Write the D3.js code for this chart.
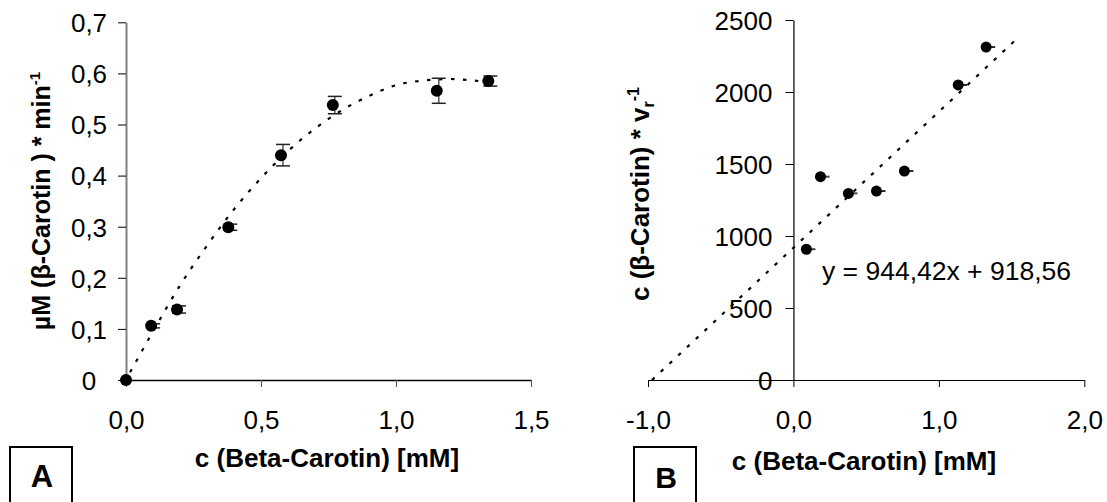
<!DOCTYPE html>
<html>
<head>
<meta charset="utf-8">
<script src="https://cdn.jsdelivr.net/npm/d3@7"></script>
<style>
  body { margin: 0; background: #fff; }
  text { font-family: "Liberation Sans", Arial, sans-serif; fill: #000; }
</style>
</head>
<body>
<div id="chart"></div>
<script>
// Panel A: rate vs concentration, with error bars
const concA = [0, 0.093, 0.189, 0.379, 0.574, 0.766, 1.151, 1.342];
const rateA = [0, 0.106, 0.138, 0.299, 0.440, 0.538, 0.566, 0.585];
const errA  = [0, 0.004, 0.007, 0.006, 0.021, 0.017, 0.0245, 0.0098];
// dotted trend curve
const trendAx = [0.015, 0.1, 0.2, 0.3, 0.4, 0.5, 0.6, 0.7, 0.8, 0.9, 1.0, 1.1, 1.2, 1.29, 1.34];
const trendAy = [0.015, 0.095, 0.185, 0.263, 0.334, 0.395, 0.448, 0.492, 0.528, 0.556, 0.577, 0.586, 0.589, 0.586, 0.583];
const xTicksA = [0, 0.5, 1.0, 1.5];
const yTicksA = [0, 0.1, 0.2, 0.3, 0.4, 0.5, 0.6, 0.7];

// Panel B: Hanes plot, c / v vs c
const concB = [0.089, 0.186, 0.378, 0.571, 0.763, 1.133, 1.325];
const hanesB = [908, 1412, 1296, 1312, 1451, 2049, 2312];
const errB  = [3, 3, 3, 3, 3, 3, 3];
const fitB = [944.42, 918.56];   // slope, intercept
const fitEndB = 1.52;
const xTicksB = [-1, 0, 1, 2];
const yTicksB = [0, 500, 1000, 1500, 2000, 2500];

const svg = d3.select("#chart").append("svg")
    .attr("width", 1107)
    .attr("height", 502);

const comma = d => d3.format(".1f")(Math.abs(d)).replace(".", ",");
const commaSigned = d => (d < 0 ? "-" : "") + comma(d);

// ---------- Panel A ----------
let xA = d3.scaleLinear().domain([0, 1.5]).range([126, 531]);
let yA = d3.scaleLinear().domain([0, 0.7]).range([380, 22.3]);

let gxA = svg.append("g")
    .attr("transform", `translate(0,${yA(0)})`)
    .call(d3.axisBottom(xA).tickValues(xTicksA).tickSize(7).tickSizeOuter(0).tickPadding(24)
        .tickFormat(comma));
gxA.select(".domain").attr("stroke", "#000").attr("stroke-width", 1.3);
gxA.selectAll(".tick line").attr("stroke", "#555");
gxA.selectAll("text").attr("font-size", 26).attr("fill", "#000");

let gyA = svg.append("g")
    .attr("transform", `translate(${xA(0)},0)`)
    .call(d3.axisLeft(yA).tickValues(yTicksA).tickSize(8).tickSizeOuter(0)
        .tickFormat(d => d === 0 ? "0" : comma(d)));
gyA.select(".domain").attr("stroke", "#808080").attr("stroke-width", 2);
gyA.selectAll(".tick line").attr("stroke", "#000");
gyA.selectAll("text")
    .attr("font-size", 26).attr("fill", "#000")
    .attr("text-anchor", "middle").attr("x", -37).attr("dy", "0.36em");

// trend curve
let trendA = trendAx.map((x, i) => [x, trendAy[i]]);
svg.append("path")
    .datum(trendA)
    .attr("fill", "none")
    .attr("stroke", "#000")
    .attr("stroke-width", 2.2)
    .attr("stroke-dasharray", "3.5,8.5")
    .attr("d", d3.line().x(d => xA(d[0])).y(d => yA(d[1])).curve(d3.curveMonotoneX));

// error bars
const capW = 7, capShift = 2;
let ebA = svg.append("g");
concA.forEach((c, i) => {
    if (errA[i] === 0) return;
    let x = xA(c) + capShift;
    ebA.append("line")
        .attr("x1", x).attr("x2", x)
        .attr("y1", yA(rateA[i] - errA[i])).attr("y2", yA(rateA[i] + errA[i]))
        .attr("stroke", "#555").attr("stroke-width", 1.5);
    [rateA[i] - errA[i], rateA[i] + errA[i]].forEach(v => {
        ebA.append("line")
            .attr("x1", x - capW).attr("x2", x + capW)
            .attr("y1", yA(v)).attr("y2", yA(v))
            .attr("stroke", "#222").attr("stroke-width", 1.5);
    });
});

svg.append("g").selectAll("circle")
    .data(concA)
    .join("circle")
    .attr("cx", d => xA(d))
    .attr("cy", (d, i) => yA(rateA[i]))
    .attr("r", 6)
    .attr("fill", "#000");

// axis titles A
svg.append("text")
    .attr("x", 327).attr("y", 467)
    .attr("text-anchor", "middle")
    .attr("font-size", 26).attr("font-weight", "bold")
    .text("c (Beta-Carotin) [mM]");

let tA = svg.append("text")
    .attr("transform", "translate(50,201) rotate(-90)")
    .attr("text-anchor", "middle")
    .attr("font-size", 25).attr("font-weight", "bold");
tA.append("tspan").text("µM (β-Carotin ) * min");
tA.append("tspan").attr("font-size", 15).attr("dy", -10).text("-1");

svg.append("rect")
    .attr("x", 10).attr("y", 447).attr("width", 62).attr("height", 60)
    .attr("fill", "none").attr("stroke", "#000").attr("stroke-width", 2);
svg.append("text")
    .attr("x", 42).attr("y", 487).attr("text-anchor", "middle")
    .attr("font-size", 31).attr("font-weight", "bold")
    .text("A");

// ---------- Panel B ----------
let xB = d3.scaleLinear().domain([-1, 2]).range([648, 1084.3]);
let yB = d3.scaleLinear().domain([0, 2500]).range([380, 20]);

let gxB = svg.append("g")
    .attr("transform", `translate(0,${yB(0)})`)
    .call(d3.axisBottom(xB).tickValues(xTicksB).tickSize(7).tickSizeOuter(0).tickPadding(24)
        .tickFormat(commaSigned));
gxB.select(".domain").attr("stroke", "#000").attr("stroke-width", 1.2);
gxB.selectAll(".tick line").attr("stroke", "#000");
gxB.selectAll("text").attr("font-size", 26).attr("fill", "#000");

let gyB = svg.append("g")
    .attr("transform", `translate(${xB(0)},0)`)
    .call(d3.axisLeft(yB).tickValues(yTicksB).tickSize(8).tickSizeOuter(0).tickPadding(13)
        .tickFormat(d3.format("d")));
gyB.select(".domain").attr("stroke", "#000").attr("stroke-width", 1.2);
gyB.selectAll(".tick line").attr("stroke", "#000");
gyB.selectAll("text").attr("font-size", 26).attr("fill", "#000").attr("dy", "0.36em");

// linear fit
let x0B = -fitB[1] / fitB[0];
svg.append("path")
    .datum([x0B, fitEndB])
    .attr("fill", "none")
    .attr("stroke", "#000")
    .attr("stroke-width", 2.2)
    .attr("stroke-dasharray", "3.5,8.5")
    .attr("d", d3.line().x(d => xB(d)).y(d => yB(fitB[0] * d + fitB[1])));

let ebB = svg.append("g");
concB.forEach((c, i) => {
    let x = xB(c) + capShift;
    [hanesB[i] - errB[i], hanesB[i] + errB[i]].forEach(v => {
        ebB.append("line")
            .attr("x1", x - capW).attr("x2", x + capW)
            .attr("y1", yB(v)).attr("y2", yB(v))
            .attr("stroke", "#222").attr("stroke-width", 1);
    });
});

svg.append("g").selectAll("circle")
    .data(concB)
    .join("circle")
    .attr("cx", d => xB(d))
    .attr("cy", (d, i) => yB(hanesB[i]))
    .attr("r", 5.5)
    .attr("fill", "#000");

svg.append("text")
    .attr("x", 822).attr("y", 280)
    .attr("font-size", 26.5)
    .text("y = 944,42x + 918,56");

svg.append("text")
    .attr("x", 864).attr("y", 470)
    .attr("text-anchor", "middle")
    .attr("font-size", 26).attr("font-weight", "bold")
    .text("c (Beta-Carotin) [mM]");

let tB = svg.append("text")
    .attr("transform", "translate(649,194) rotate(-90)")
    .attr("text-anchor", "middle")
    .attr("font-size", 26).attr("font-weight", "bold");
tB.append("tspan").text("c (β-Carotin) * v");
tB.append("tspan").attr("font-size", 16).attr("dy", 5).text("r");
tB.append("tspan").attr("font-size", 16).attr("dy", -15).text("-1");

svg.append("rect")
    .attr("x", 634).attr("y", 447).attr("width", 62).attr("height", 60)
    .attr("fill", "none").attr("stroke", "#000").attr("stroke-width", 2);
svg.append("text")
    .attr("x", 666).attr("y", 488).attr("text-anchor", "middle")
    .attr("font-size", 30).attr("font-weight", "bold")
    .text("B");
</script>
</body>
</html>
